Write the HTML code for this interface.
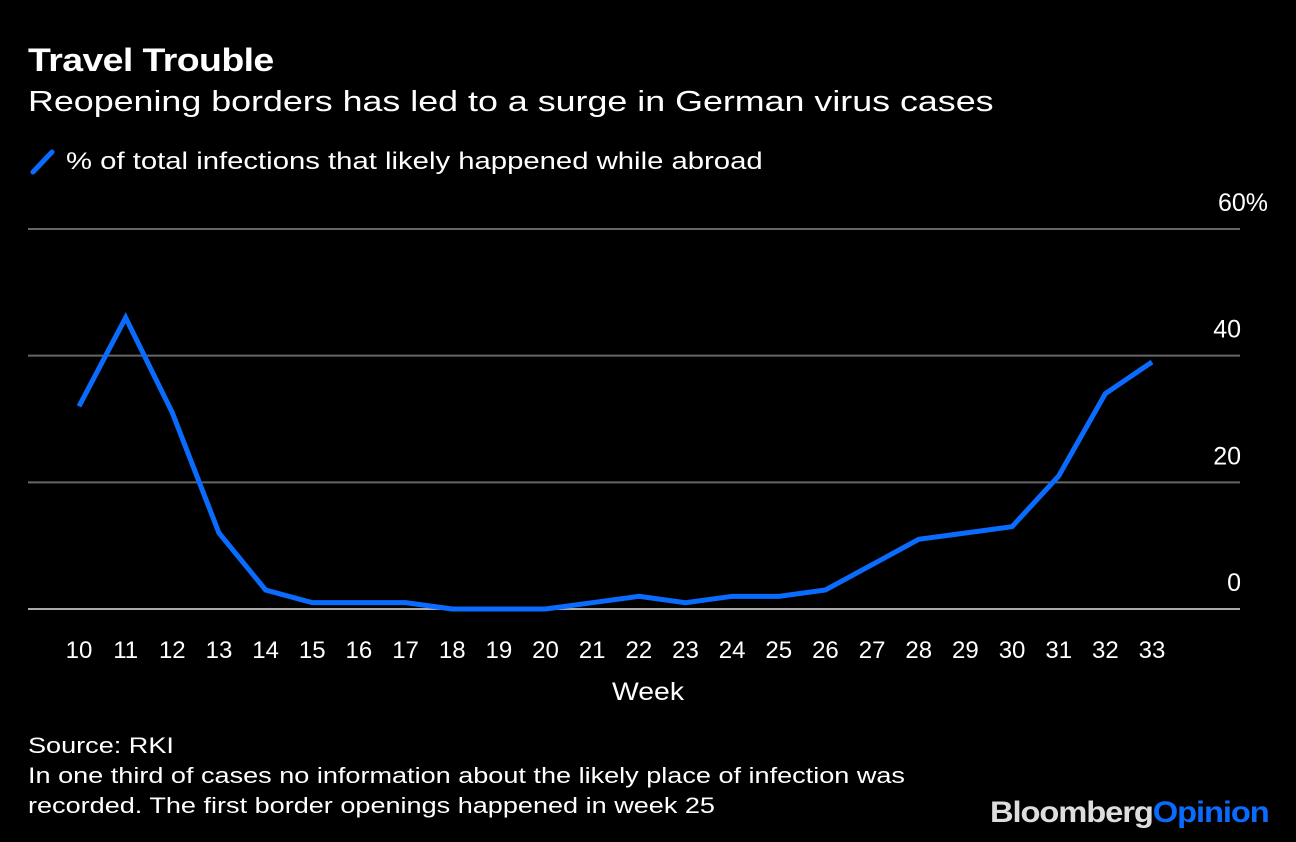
<!DOCTYPE html>
<html><head><meta charset="utf-8">
<style>
body{margin:0;background:#000;width:1296px;height:842px;overflow:hidden;font-family:"Liberation Sans",sans-serif;color:#fff;position:relative}
.t{position:absolute;white-space:nowrap;transform-origin:0 0}
</style></head><body>
<div class="t" style="left:28px;top:42px;font-size:32px;font-weight:bold;letter-spacing:-0.5px;transform:scaleX(1.17)">Travel Trouble</div>
<div class="t" style="left:28px;top:86px;font-size:29px;transform:scaleX(1.235)">Reopening borders has led to a surge in German virus cases</div>
<svg class="t" width="26" height="28" style="left:30px;top:148px"><line x1="3" y1="24" x2="22" y2="4" stroke="#0a6cff" stroke-width="5" stroke-linecap="round"/></svg>
<div class="t" style="left:66px;top:148px;font-size:24px;transform:scaleX(1.22)">% of total infections that likely happened while abroad</div>
<svg id="chart" width="1296" height="842" style="position:absolute;left:0;top:0"></svg>
<div class="t" style="left:28px;top:731px;font-size:22px;line-height:30px;transform:scaleX(1.23)">Source: RKI<br>In one third of cases no information about the likely place of infection was<br>recorded. The first border openings happened in week 25</div>
<div class="t" style="left:990px;top:796px;font-size:30px;font-weight:bold;letter-spacing:-1px;transform:scaleX(1.09)"><span style="color:#ddd">Bloomberg</span><span style="color:#0a6cff">Opinion</span></div>
<script>
const weeks=[10,11,12,13,14,15,16,17,18,19,20,21,22,23,24,25,26,27,28,29,30,31,32,33];
const values=[32,46,31,12,3,1,1,1,0,0,0,1,2,1,2,2,3,7,11,12,13,21,34,39];
const yTicks=[0,20,40,60];
const yTickLabels=["0","20","40","60%"];
const NS="http://www.w3.org/2000/svg";
const svg=document.getElementById('chart');
const x=w=>79+(w-10)*(1152-79)/23;
const y=v=>609-v*(609-229)/60;
function el(t,a){const e=document.createElementNS(NS,t);for(const k in a)e.setAttribute(k,a[k]);svg.appendChild(e);return e;}
yTicks.forEach((v,i)=>{
 const g=el('line',{x1:28,x2:1240,y1:y(v),y2:y(v),stroke:v===0?'#aaa':'#666','stroke-width':2});
 
 
 const lab=yTickLabels[i];
 const t=el('text',{x:lab.endsWith('%')?1268:1241,y:y(v)-18,'text-anchor':'end','font-size':25,fill:'#fff','font-family':'Liberation Sans, sans-serif'});
 t.textContent=lab;
 
 
});
weeks.forEach(w=>{
 const t=el('text',{x:x(w),y:658,'text-anchor':'middle','font-size':24,fill:'#fff','font-family':'Liberation Sans, sans-serif'});
 t.textContent=w;
 
 
});
const xt=el('text',{x:612,y:700,'font-size':25,fill:'#fff','font-family':'Liberation Sans, sans-serif',textLength:72,lengthAdjust:'spacingAndGlyphs'});
xt.textContent='Week';


const p=el('polyline',{points:weeks.map((w,i)=>x(w)+','+y(values[i])).join(' '),fill:'none',stroke:'#0a6cff','stroke-width':5,'stroke-linejoin':'miter'});


</script>
</body></html>
